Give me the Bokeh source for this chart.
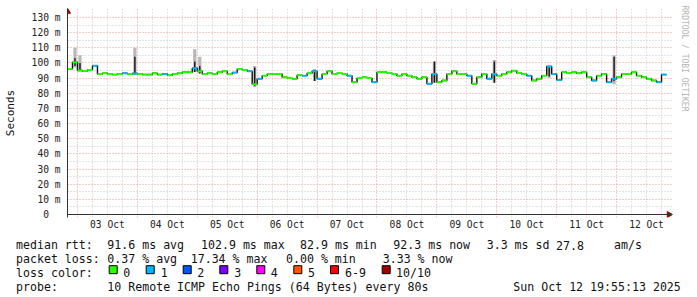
import pandas as pd
from math import pi
from bokeh.plotting import figure
from bokeh.layouts import column
from bokeh.models import (Range1d, FixedTicker, DatetimeTickFormatter, Title,
                          ColumnDataSource, DatetimeAxis)
from bokeh.core.properties import value
from bokeh.embed import file_html
from bokeh.resources import INLINE

MONO = "DejaVu Sans Mono"

# ---------------- data ----------------
t_start = pd.Timestamp("2025-10-02 20:00")
t_end = pd.Timestamp("2025-10-12 20:00")
step = pd.Timedelta(hours=2)

# median RTT (ms), one value per 2-hour step
median_ms = [
    96.0, 100.4, 95.0, 94.7, 95.4, 98.2, 92.7, 93.2, 92.7, 92.3,
    92.7, 93.2, 92.7, 93.0, 92.7, 92.3, 92.3, 93.2, 92.3, 92.7,
    91.9, 92.7, 93.2, 93.8, 93.8, 96.5, 94.5, 92.7, 93.2, 92.7,
    93.8, 94.5, 92.7, 93.6, 96.0, 95.4, 94.5, 86.0, 89.5, 91.6,
    92.7, 92.7, 92.7, 90.5, 90.0, 89.5, 91.9, 91.6, 93.2, 94.5,
    89.5, 92.7, 94.5, 92.7, 93.4, 92.7, 91.6, 87.3, 90.0, 90.5,
    90.0, 87.3, 93.8, 93.8, 93.4, 92.7, 91.6, 92.7, 91.6, 90.5,
    89.5, 90.5, 86.2, 92.7, 87.3, 88.4, 92.7, 94.5, 92.7, 92.7,
    91.6, 86.2, 90.5, 92.7, 89.5, 92.7, 91.6, 92.7, 93.8, 94.9,
    93.4, 92.7, 91.6, 88.4, 89.5, 91.6, 97.6, 92.7, 88.8, 93.8,
    93.4, 93.8, 93.2, 93.8, 90.5, 88.4, 91.6, 92.7, 87.3, 89.5,
    90.5, 92.7, 92.7, 93.8, 91.6, 90.5, 89.5, 88.4, 87.3, 92.3,
]

# lost pings (of 10) per step
loss_count = [
    0, 0, 0, 0, 0, 1, 0, 0, 0, 0,
    0, 1, 0, 1, 0, 0, 0, 0, 0, 1,
    0, 0, 0, 0, 0, 1, 0, 0, 0, 0,
    0, 0, 0, 1, 0, 0, 1, 0, 1, 0,
    0, 0, 0, 0, 0, 0, 0, 1, 0, 1,
    1, 0, 0, 0, 0, 0, 1, 0, 0, 0,
    0, 1, 0, 0, 0, 0, 0, 0, 0, 0,
    0, 0, 1, 1, 0, 0, 0, 0, 0, 0,
    1, 0, 0, 0, 1, 1, 0, 0, 0, 0,
    0, 0, 1, 0, 0, 0, 1, 1, 1, 0,
    0, 0, 0, 0, 0, 1, 0, 0, 1, 1,
    0, 0, 0, 0, 0, 0, 0, 0, 1, 1,
]

# visible smoke (ping spread) at the spikes: light outer band and dark core
spike_idx = [1, 2, 13, 25, 26, 37, 49, 73, 85, 96, 109]
smoke_lo = [97, 95, 92, 94, 93, 84, 88, 87, 87, 90, 86]
smoke_hi = [110, 105, 110, 109, 104, 98, 96, 101, 102, 98, 105]
core_lo = [98, 95, 92.7, 94, 93, 85, 88, 87, 87, 91, 88]
core_hi = [103, 100, 104, 101, 98, 97, 95, 101, 101, 97, 104]

loss_colors = ["#26ff00", "#00b8ff", "#0059ff", "#7e00ff", "#ff00ff",
               "#ff5500", "#ff0000", "#a10000"]
loss_names = ["0", "1", "2", "3", "4", "5", "6-9", "10/10"]

y_ticks = [0, 10, 20, 30, 40, 50, 60, 70, 80, 90, 100, 110, 120, 130]
y_tick_labels = ["0\u00a0\u00a0", "10 m", "20 m", "30 m", "40 m", "50 m", "60 m",
                 "70 m", "80 m", "90 m", "100 m", "110 m", "120 m", "130 m"]
y_minor = [5, 15, 25, 35, 45, 55, 65, 75, 85, 95, 105, 115, 125]

legend_rows = [
    ["median rtt:", "91.6 ms avg", "102.9 ms max", "82.9 ms min", "92.3 ms now",
     "3.3 ms sd", "27.8", "am/s"],
    ["packet loss:", "0.37 % avg", "17.34 % max", "0.00 % min", "3.33 % now"],
    ["loss color:"],
    ["probe:", "10 Remote ICMP Echo Pings (64 Bytes) every 80s",
     "Sun Oct 12 19:55:13 2025"],
]


def ms(t):
    return t.value / 1e6


HOUR = 3600 * 1000
times = [t_start + step * i for i in range(len(median_ms))]
noon_ticks = [ms(t) for t in pd.date_range("2025-10-03 12:00", "2025-10-12 12:00", freq="D")]
midnights = [ms(t) for t in pd.date_range("2025-10-03 00:00", "2025-10-12 00:00", freq="D")]
six_h = [ms(t) for t in pd.date_range("2025-10-03 06:00", "2025-10-12 18:00", freq="6h")
         if t.hour != 0]

AXIS = "#333333"
ARROW = "#a00000"
MGRID = "#e89a9a"
GRID = "#c8c8c8"

# ---------------- main chart ----------------
p = figure(width=697, height=232, x_axis_type="datetime",
           x_range=Range1d(ms(t_start), ms(t_end) + 2.4 * HOUR),
           y_range=Range1d(-1.97, 135.9),
           output_backend="svg", toolbar_location=None,
           min_border_left=67, min_border_right=24, min_border_top=8,
           min_border_bottom=14)
p.frame_align = False
p.outline_line_color = None
p.background_fill_color = "white"
p.border_fill_color = "white"

fmt = "%d %b"
day_fmt = DatetimeTickFormatter(
    milliseconds=fmt, seconds=fmt, minsec=fmt, minutes=fmt, hourmin=fmt,
    hours=fmt, days=fmt, months=fmt, years=fmt)

# axis line drawn at y = 0 (no labels)
p.xaxis.fixed_location = 0
p.xaxis.ticker = FixedTicker(ticks=[])
p.xaxis.major_label_standoff = 0
p.xaxis.axis_line_color = AXIS
p.xaxis.major_tick_out = 0
p.xaxis.major_tick_in = 0
p.xaxis.minor_tick_out = 0
p.xaxis.minor_tick_in = 0

# day labels at noon, under the frame
day_axis = DatetimeAxis(ticker=FixedTicker(ticks=noon_ticks), formatter=day_fmt,
                        axis_line_color=None, major_tick_out=0, major_tick_in=0,
                        minor_tick_out=0, minor_tick_in=0, major_label_standoff=1,
                        major_label_text_font=MONO, major_label_text_font_size="9.6px",
                        major_label_text_color="#222222")
p.add_layout(day_axis, "below")

p.yaxis.ticker = FixedTicker(ticks=y_ticks)
p.yaxis.major_label_overrides = {v: s for v, s in zip(y_ticks, y_tick_labels)}
ya = p.yaxis[0]
ya.axis_line_color = AXIS
ya.major_tick_out = 0
ya.major_tick_in = 0
ya.minor_tick_out = 0
ya.minor_tick_in = 0
ya.major_label_text_font = MONO
ya.major_label_text_font_size = "9.6px"
ya.major_label_text_color = "#222222"
ya.major_label_standoff = 7
ya.axis_label = "Seconds"
ya.axis_label_text_font = MONO
ya.axis_label_text_font_size = "11px"
ya.axis_label_text_font_style = "normal"
ya.axis_label_text_color = "#111111"
ya.axis_label_standoff = 12

p.xgrid.ticker = FixedTicker(ticks=midnights, minor_ticks=six_h)
p.ygrid.ticker = FixedTicker(ticks=y_ticks, minor_ticks=y_minor)
for g in (p.xgrid[0], p.ygrid[0]):
    g.grid_line_color = MGRID
    g.grid_line_dash = "1 2"
    g.grid_line_width = 1
    g.minor_grid_line_color = GRID
    g.minor_grid_line_dash = "1 2"
    g.minor_grid_line_width = 1

# smoke
smoke_src = ColumnDataSource(dict(
    x=[times[i] + step / 2 for i in spike_idx],
    lo=smoke_lo, hi=smoke_hi, clo=core_lo, chi=core_hi))
p.vbar(x="x", width=1.3 * HOUR, bottom="lo", top="hi", source=smoke_src,
       fill_color="#b8b8b8", line_color=None)

# black connectors (step line of the median)
p.step(x=times + [t_end], y=median_ms + [median_ms[-1]], mode="after",
       line_color="#111111", line_width=1.4)

p.vbar(x="x", width=0.55 * HOUR, bottom="clo", top="chi", source=smoke_src,
       fill_color="#151515", line_color=None)


def loss_idx(n):
    if n <= 5:
        return n
    if n < 10:
        return 6
    return 7


seg_src = ColumnDataSource(dict(
    x0=times, x1=[t + step for t in times], y=median_ms,
    c=[loss_colors[loss_idx(n)] for n in loss_count]))
p.segment(x0="x0", x1="x1", y0="y", y1="y", line_color="c", line_width=2,
          source=seg_src)

# axis arrow heads
p.scatter(x=[ms(t_start)], y=[133.9], marker="triangle", size=6,
          fill_color=ARROW, line_color=ARROW)
p.scatter(x=[ms(t_end) + 1.0 * HOUR], y=[0], marker="triangle", size=6,
          angle=-pi / 2, fill_color=ARROW, line_color=ARROW)

p.add_layout(Title(text="RRDTOOL / TOBI OETIKER", align="left", offset=-3,
                   standoff=14, text_font=MONO, text_font_size="8px",
                   text_font_style="normal", text_color="#b4b4b4"), "right")

# ---------------- legend block ----------------
leg = figure(width=697, height=65, x_range=Range1d(0, 697), y_range=Range1d(65, 0),
             output_backend="svg", toolbar_location=None, min_border=0,
             x_axis_type=None, y_axis_type=None)
leg.frame_align = False
leg.outline_line_color = None
leg.background_fill_color = "white"
leg.border_fill_color = "white"

row_x = [
    [15.5, 106.8, 200.5, 299.5, 392.8, 486.2, 555.5, 613.5],
    [15.5, 106.8, 190.2, 285.5, 382.2],
    [15.5],
    [15.5, 106.8, 512.8],
]
row_y = [12.7, 26.3, 40.3, 54.0]
tx, ty, tt = [], [], []
for r, items in enumerate(legend_rows):
    for j, s in enumerate(items):
        tx.append(row_x[r][j])
        ty.append(row_y[r])
        tt.append(s)
box_cx = [112.7, 149.7, 186.7, 223.3, 260.3, 297.3, 334.0, 385.7]
lab_x = [122.8, 160.2, 196.8, 233.8, 270.2, 307.5, 344.5, 395.5]
for k, name in enumerate(loss_names):
    tx.append(lab_x[k])
    ty.append(row_y[2])
    tt.append(name)

leg.text(x=tx, y=ty, text=tt, text_font=value(MONO), text_font_size=value("11.6px"),
         text_color="#111111", text_align="left", text_baseline="alphabetic")
leg.rect(x=box_cx, y=[37.2] * len(box_cx), width=8, height=8,
         fill_color=loss_colors, line_color="#000000", line_width=1)

layout = column(p, leg, spacing=0)
open("out.html", "w").write(file_html(layout, INLINE))
